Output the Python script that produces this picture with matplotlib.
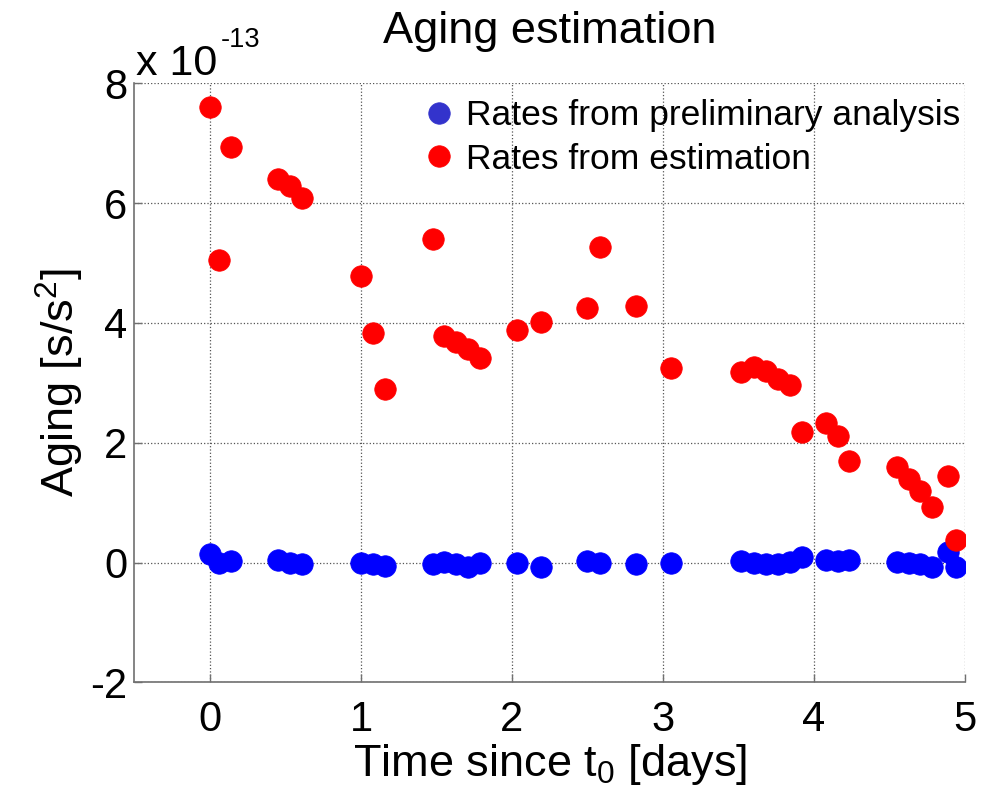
import matplotlib
matplotlib.use("Agg")
import matplotlib.pyplot as plt

plt.rcParams['font.family'] = ['Liberation Sans', 'DejaVu Sans']
plt.rcParams['mathtext.fontset'] = 'custom'
plt.rcParams['mathtext.rm'] = 'Liberation Sans'
plt.rcParams['axes.unicode_minus'] = False

# time since t0 (days), shared by both series
t_days = [0.00, 0.06, 0.14, 0.45, 0.53, 0.61, 1.00, 1.08, 1.16, 1.48, 1.55, 1.63,
          1.71, 1.79, 2.03, 2.19, 2.50, 2.58, 2.82, 3.05, 3.52, 3.60, 3.68, 3.76,
          3.84, 3.92, 4.08, 4.16, 4.23, 4.55, 4.63, 4.70, 4.78, 4.89, 4.94]

# aging rates in units of 1e-13 s/s^2
prelim = [0.15, 0.00, 0.02, 0.04, 0.00, -0.02, 0.00, -0.02, -0.06, -0.02, 0.01, -0.03,
          -0.07, 0.00, -0.01, -0.08, 0.03, -0.01, -0.03, -0.01, 0.03, 0.00, -0.02, -0.02,
          0.01, 0.10, 0.04, 0.02, 0.04, 0.01, 0.00, -0.02, -0.07, 0.18, -0.07]
estim = [7.61, 5.05, 6.93, 6.40, 6.28, 6.08, 4.78, 3.84, 2.90, 5.40, 3.78, 3.68,
         3.56, 3.41, 3.89, 4.02, 4.25, 5.27, 4.28, 3.25, 3.18, 3.27, 3.19, 3.07,
         2.97, 2.18, 2.33, 2.12, 1.69, 1.60, 1.40, 1.19, 0.92, 1.45, 0.37]

x_ticks = [0, 1, 2, 3, 4, 5]
y_ticks = [-2, 0, 2, 4, 6, 8]

fig = plt.figure(figsize=(9.94, 7.96), dpi=100)
ax = fig.add_axes([0.1353, 0.1428, 0.8355, 0.7525])

ax.plot(t_days, prelim, 'o', color='#0000ff', mec='#0000ff', ms=15.5, mew=0.5,
        label='Rates from preliminary analysis')
ax.plot(t_days, estim, 'o', color='#ff0000', mec='#ff0000', ms=15.5, mew=0.5,
        label='Rates from estimation')

ax.set_xlim(-0.5, 5)
ax.set_ylim(-2, 8)
ax.set_xticks(x_ticks)
ax.set_yticks(y_ticks)
ax.grid(True, linestyle=':', color='#555555', linewidth=0.9)
for s in ['top', 'right']:
    ax.spines[s].set_visible(False)
for s in ['left', 'bottom']:
    ax.spines[s].set_color('#707070')
    ax.spines[s].set_linewidth(1.2)
ax.tick_params(direction='in', length=6, width=1, color='#707070', labelsize=30)
ax.tick_params(axis='x', pad=13)
ax.tick_params(axis='y', pad=5)

ax.set_title('Aging estimation', fontsize=32.5, pad=29)
ax.set_xlabel(r'Time since t$\mathregular{_0}$ [days]', fontsize=32.5, labelpad=1)
ax.set_ylabel(r'Aging [s/s$\mathregular{^2}$]', fontsize=32.5, labelpad=3)

fig.text(136 / 994, 1 - 75 / 796, 'x 10', fontsize=31, ha='left', va='baseline')
fig.text(221 / 994, 1 - 47 / 796, '-13', fontsize=19.5, ha='left', va='baseline')

leg = ax.legend(loc='upper left', bbox_to_anchor=(425 / 994, 1 - 99 / 796),
                bbox_transform=fig.transFigure, frameon=False, fontsize=25.5,
                handlelength=0.8, handletextpad=0.35, borderpad=0, borderaxespad=0,
                labelspacing=0.3, numpoints=1)
leg.legend_handles[0].set_color('#3333cc')
leg.legend_handles[0].set_markeredgecolor('#3333cc')

fig.savefig('out.png', dpi=100)
